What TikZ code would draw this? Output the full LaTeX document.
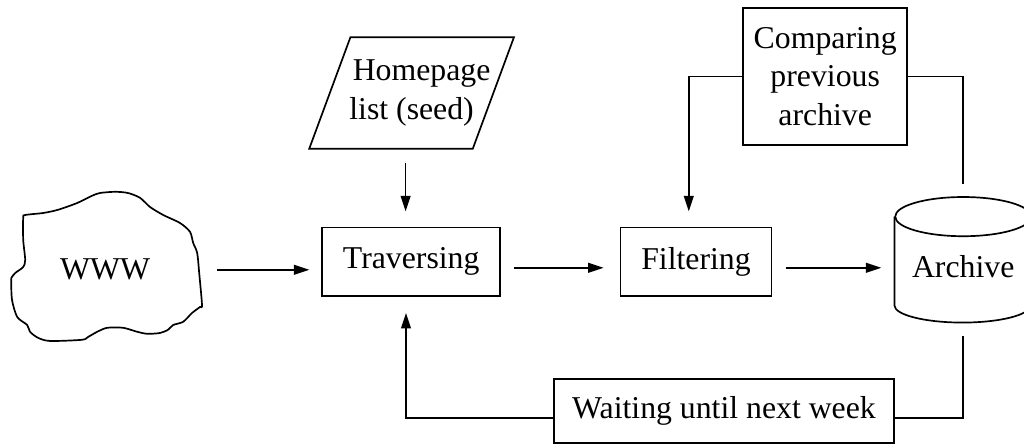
\documentclass[tikz,border=0pt]{standalone}
\usepackage{fontspec}
\setmainfont{Liberation Serif}
\usetikzlibrary{arrows.meta}

\begin{document}
\begin{tikzpicture}[>={Triangle[length=11pt, width=7pt]}, line width=1.1pt,
    font=\fontsize{22.6}{27.5}\selectfont,
    procbox/.style={draw, line width=1.2pt, minimum height=1.72cm, inner sep=0pt}]
    \useasboundingbox (0, 0) rectangle (25.6, 11.125);

    % WWW cloud
    \draw[line width=1.2pt] plot[smooth cycle, tension=0.45] coordinates {
        (0.63, 5.75) (1.08, 5.80) (1.45, 5.88) (1.93, 6.05) (2.30, 6.23)
        (2.50, 6.30) (2.88, 6.33) (3.20, 6.30) (3.50, 6.18) (3.75, 5.95)
        (4.08, 5.75) (4.50, 5.55) (4.75, 5.33) (4.83, 5.05) (4.93, 4.80)
        (4.98, 4.30) (5.05, 3.50) (5.00, 3.45) (4.80, 3.30) (4.58, 3.08)
        (4.33, 3.00) (4.20, 2.88) (4.00, 2.80) (3.68, 2.78) (3.43, 2.83)
        (3.08, 2.93) (2.68, 2.93) (2.43, 2.83) (2.20, 2.70) (2.05, 2.63)
        (1.25, 2.60) (0.95, 2.68) (0.75, 2.83) (0.68, 3.00) (0.43, 3.20)
        (0.30, 3.63) (0.28, 4.13) (0.30, 4.20) (0.38, 4.30) (0.58, 4.45)
        (0.63, 4.63) (0.58, 5.13) (0.58, 5.68)};
    \node[minimum width=4.75cm, minimum height=3.7cm] (www) at (2.63, 4.38) {WWW};

    % Seed list (slanted box)
    \node[minimum width=5.08cm, minimum height=2.75cm, inner sep=0pt, align=center] (seed)
        at (10.29, 8.80) {\hspace*{0.5cm}Homepage\\list (seed)};
    \draw[line width=1.2pt] (seed.south west) -- ([xshift=-1.03cm]seed.south east)
        -- (seed.north east) -- ([xshift=1.03cm]seed.north west) -- cycle;

    % Steps
    \node[procbox, minimum width=4.45cm] (trav) at (10.28, 4.58) {Traversing};
    \node[procbox, minimum width=3.78cm] (filt) at (17.40, 4.58) {Filtering};
    \node[procbox, minimum width=4.1cm, minimum height=3.43cm, align=center] (comp) at (20.63, 9.21)
        {Comparing\\previous\\archive};
    \node[procbox, minimum width=8.5cm, minimum height=1.6cm] (wait) at (18.10, 0.85)
        {Waiting until next week};

    % Archive drum
    \node[minimum width=3.4cm, minimum height=3.1cm, text height=0.9cm, text depth=0pt] (arch)
        at (24.08, 4.63) {Archive};
    \draw[line width=1.2pt] ([yshift=-0.49cm]arch.north) ellipse [x radius=1.7cm, y radius=0.49cm];
    \draw[line width=1.2pt] ([yshift=-0.49cm]arch.north west) -- ([yshift=0.43cm]arch.south west)
        arc [start angle=180, end angle=360, x radius=1.7cm, y radius=0.43cm]
        -- ([yshift=-0.49cm]arch.north east);

    % Main flow
    \draw[->, shorten <=0.4cm, shorten >=0.3cm] (www.east) -- (www.east -| trav.west);
    \draw[->, shorten <=0.35cm, shorten >=0.38cm] ([xshift=-0.15cm]seed.south)
        -- ([xshift=-0.15cm]seed.south |- trav.north);
    \draw[->, shorten <=0.33cm, shorten >=0.4cm] ([yshift=-0.15cm]trav.east)
        -- ([yshift=-0.15cm]trav.east -| filt.west);
    \draw[->, shorten <=0.33cm, shorten >=0.33cm] ([yshift=-0.15cm]filt.east)
        -- ([yshift=-0.15cm]filt.east -| arch.west);

    % Comparing loop
    \draw[shorten <=0.33cm] (arch.north) |- (comp.east);
    \draw[->, shorten >=0.38cm] (comp.west) -| ([xshift=-0.18cm]filt.north);

    % Weekly loop
    \draw[shorten <=0.33cm] (arch.south) |- ([yshift=-0.18cm]wait.east);
    \draw[->, shorten >=0.4cm] ([yshift=-0.18cm]wait.west) -| ([xshift=-0.13cm]trav.south);
\end{tikzpicture}
\end{document}
